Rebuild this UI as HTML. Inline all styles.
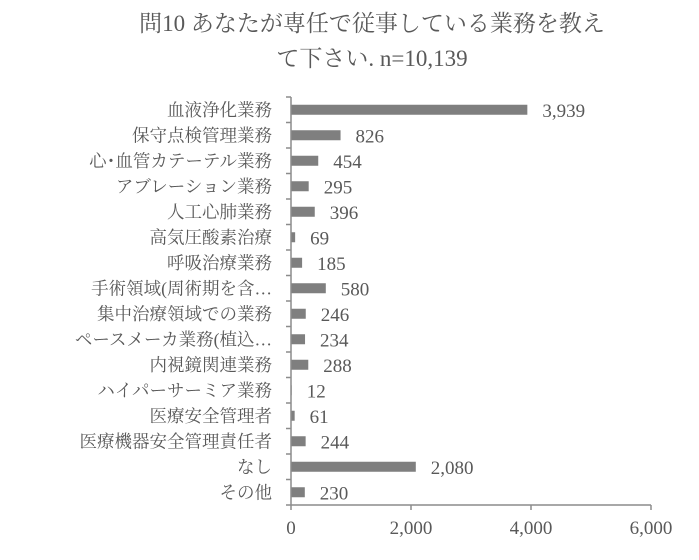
<!DOCTYPE html>
<html><head><meta charset="utf-8"><style>
body{margin:0;background:#fff;}
svg text{fill:#595959;}
.jp{font-family:"Liberation Serif","Noto Serif CJK SC","Noto Sans CJK JP",serif;}
</style></head><body>
<svg id="chart" width="699" height="555" xmlns="http://www.w3.org/2000/svg">
<text class="jp" x="372" y="31" text-anchor="middle" font-size="23">問10 あなたが専任で従事している業務を教え</text>
<text class="jp" x="372" y="66" text-anchor="middle" font-size="23">て下さい. n=10,139</text>
<g id="plot"></g>
</svg>
<script>
const categories=["血液浄化業務","保守点検管理業務","心･血管カテーテル業務","アブレーション業務","人工心肺業務","高気圧酸素治療","呼吸治療業務","手術領域(周術期を含…","集中治療領域での業務","ペースメーカ業務(植込…","内視鏡関連業務","ハイパーサーミア業務","医療安全管理者","医療機器安全管理責任者","なし","その他"];
const values=[3939,826,454,295,396,69,185,580,246,234,288,12,61,244,2080,230];
const ticks=[0,2000,4000,6000];
const tickLabels=["0","2,000","4,000","6,000"];
const NS="http://www.w3.org/2000/svg";
const g=document.getElementById('plot');
const x0=291,x1=651,xmax=6000,yTop=97,yBot=505;
const rowH=(yBot-yTop)/categories.length;
const xs=v=>x0+v/xmax*(x1-x0);
const yc=i=>yTop+rowH*(i+0.5);
function mk(tag,a){const e=document.createElementNS(NS,tag);for(const k in a)e.setAttribute(k,a[k]);g.appendChild(e);return e;}
categories.forEach((c,i)=>{
  const b=mk('rect',{x:x0,y:yc(i)-5,width:xs(values[i])-x0,height:10,fill:'#7f7f7f'});
  
  
  const l=mk('text',{x:272,y:yc(i)+6,'text-anchor':'end','font-size':'17.5',class:'jp'});
  l.textContent=c;
  
  
  const v=mk('text',{x:xs(values[i])+15,y:yc(i)+7,'font-size':'19','font-family':'Liberation Serif, serif'});
  v.textContent=values[i].toLocaleString('en-US');
  
  
});
for(let i=0;i<=categories.length;i++){
  const t=mk('line',{x1:286,x2:x0,y1:yTop+rowH*i,y2:yTop+rowH*i,stroke:'#8c8c8c','stroke-width':1.5});
  
  
}
const ya=mk('line',{x1:x0,x2:x0,y1:yTop,y2:yBot,stroke:'#8c8c8c','stroke-width':1.5});


const xa=mk('line',{x1:x0,x2:x1,y1:yBot,y2:yBot,stroke:'#8c8c8c','stroke-width':1.5});


ticks.forEach((t,i)=>{
  const tk=mk('line',{x1:xs(t),x2:xs(t),y1:yBot,y2:yBot+5,stroke:'#8c8c8c','stroke-width':1.5});
  
  
  const tl=mk('text',{x:xs(t),y:534,'text-anchor':'middle','font-size':'19','font-family':'Liberation Serif, serif'});
  tl.textContent=tickLabels[i];
  
  
});
</script>
</body></html>
